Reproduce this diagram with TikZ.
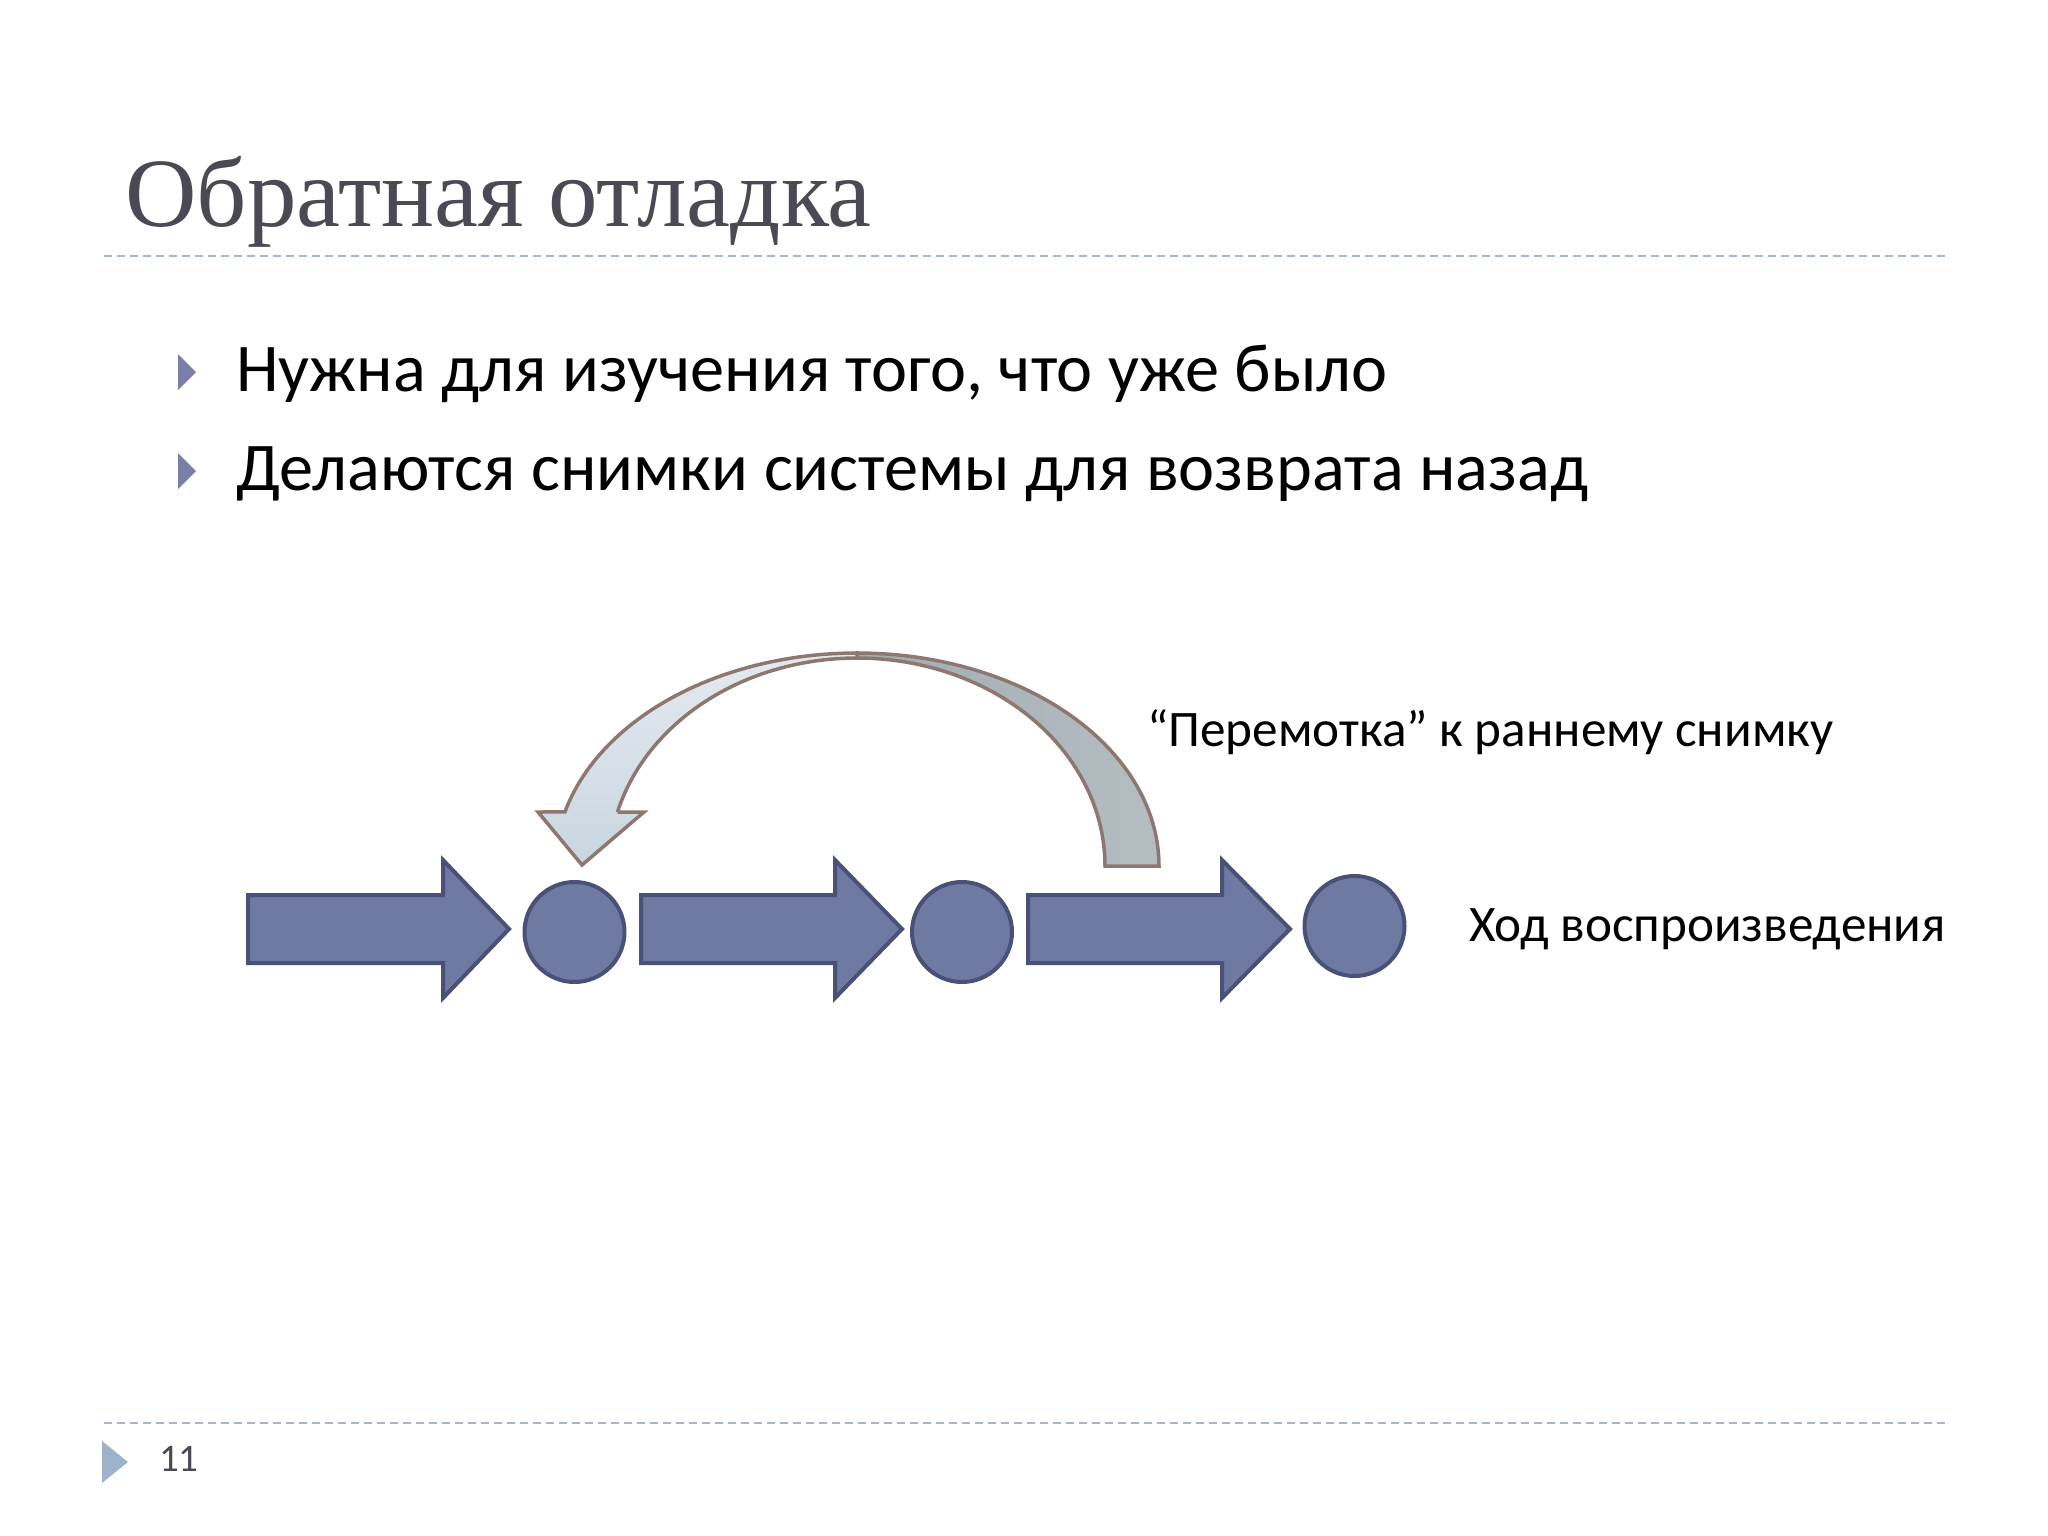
\documentclass[tikz,border=0pt]{standalone}
\usepackage{fontspec}
\setmainfont{Carlito}
\newfontfamily\titlefont{Liberation Serif}
\definecolor{titlegray}{HTML}{4A4A54}
\definecolor{dashcol}{HTML}{A9B6C5}
\definecolor{bulletcol}{HTML}{7A7FA8}
\definecolor{arrowfill}{HTML}{6E7AA2}
\definecolor{arrowline}{HTML}{4A5176}
\definecolor{bandline}{HTML}{8E7770}
\definecolor{bandfrontA}{HTML}{E3EAEF}
\definecolor{bandfrontB}{HTML}{C9D6DF}
\definecolor{bandbackA}{HTML}{A2ADB3}
\definecolor{bandbackB}{HTML}{B3BDC2}
\definecolor{footertri}{HTML}{9DB3CB}
\definecolor{numcol}{HTML}{4A4A55}
\tikzset{
  dashline/.style={draw=dashcol, line width=2pt, dash pattern=on 8pt off 5pt},
  blockarrow/.style={fill=arrowfill, draw=arrowline, line width=4pt, line join=miter},
  snapshot/.style={circle, minimum size=100pt, inner sep=0pt, fill=arrowfill, draw=arrowline, line width=4pt},
  band/.style={draw=bandline, line width=3.5pt, line join=miter},
  txt/.style={anchor=base west, inner sep=0pt},
}
\begin{document}
\begin{tikzpicture}[x=1pt,y=-1pt]
\useasboundingbox (0,0) rectangle (2048,1536);
\fill[white] (0,0) rectangle (2048,1536);

% title
\node[txt, text=titlegray, font=\titlefont\fontsize{98}{100}\selectfont, xscale=1.01] (title) at (125,226) {Обратная отладка};
\draw[dashline] (104,256) -- (1946,256);

% bullets
\fill[bulletcol] (178,354) -- (196,372) -- (178,390) -- cycle;
\node[txt, font=\fontsize{68.3}{72}\selectfont] (b1) at (236,391) {Нужна для изучения того, что уже было};
\fill[bulletcol] (178,453) -- (196,471) -- (178,489) -- cycle;
\node[txt, font=\fontsize{68.3}{72}\selectfont] (b2) at (236,490) {Делаются снимки системы для возврата назад};

% block arrows
\draw[blockarrow] (248,895) -- (443,895) -- (443,860) -- (509,929) -- (443,998) -- (443,963) -- (248,963) -- cycle;
\draw[blockarrow] (641,895) -- (835,895) -- (835,860) -- (902,929) -- (835,998) -- (835,963) -- (641,963) -- cycle;
\draw[blockarrow] (1028,895) -- (1222,895) -- (1222,860) -- (1290,929) -- (1222,998) -- (1222,963) -- (1028,963) -- cycle;

% snapshots
\node[snapshot] (c1) at (574.5,932) {};
\node[snapshot] (c2) at (962,932) {};
\node[snapshot] (c3) at (1354.5,926) {};

% curved arrow: back band
\path[band, left color=bandbackA, right color=bandbackB]
  plot[domain=90:0, samples=50] ({857+302*cos(\x)},{866-213*sin(\x)})
  -- (1105,866)
  -- plot[domain=0:90, samples=50] ({857+248*cos(\x)},{866-208*sin(\x)})
  -- cycle;
% curved arrow: front band with head
\path[band, top color=bandfrontA, bottom color=bandfrontB]
  plot[domain=90:165.3, samples=50] ({857+302*cos(\x)},{866-213*sin(\x)})
  -- (538,812) -- (582,865) -- (644,812) -- (617.5,812)
  -- plot[domain=165:90, samples=50] ({857+248*cos(\x)},{866-208*sin(\x)})
  -- cycle;

% labels
\node[txt, font=\fontsize{51.2}{54}\selectfont] (lab1) at (1147,746) {“Перемотка” к раннему снимку};
\node[txt, font=\fontsize{51.2}{54}\selectfont] (lab2) at (1469,941) {Ход воспроизведения};

% footer
\draw[dashline] (104,1423) -- (1946,1423);
\fill[footertri] (102,1441) -- (128,1462) -- (102,1483) -- cycle;
\node[txt, text=numcol, font=\fontsize{39}{42}\selectfont] (num) at (159,1471) {11};
\end{tikzpicture}
\end{document}
